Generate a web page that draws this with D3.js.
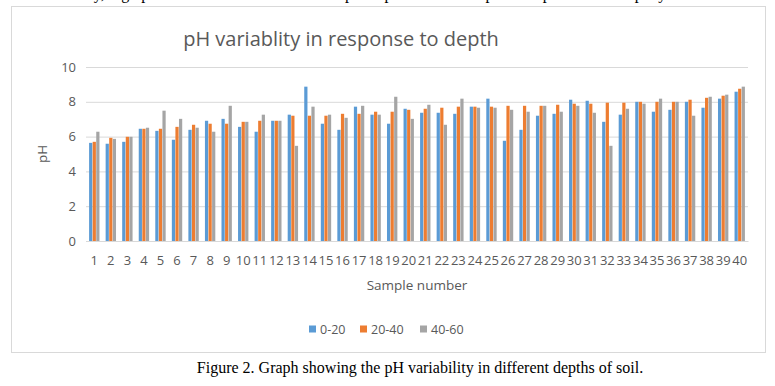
<!DOCTYPE html>
<html>
<head>
<meta charset="utf-8">
<script src="https://cdn.jsdelivr.net/npm/d3@7"></script>
<style>
  body { margin: 0; background: #fff; }
  svg { display: block; }
</style>
</head>
<body>
<div id="chart"></div>
<script>
// sample numbers on the x axis
const samples = ["1","2","3","4","5","6","7","8","9","10","11","12","13","14","15","16","17","18","19","20",
  "21","22","23","24","25","26","27","28","29","30","31","32","33","34","35","36","37","38","39","40"];
const seriesNames = ["0-20", "20-40", "40-60"];
const yTicks = [0, 2, 4, 6, 8, 10];

// pH values per depth
const depth0_20 = [5.64,5.59,5.70,6.45,6.33,5.82,6.39,6.91,7.02,6.56,6.28,6.91,7.26,8.87,6.74,6.39,7.72,7.26,6.74,7.60,
  7.37,7.37,7.31,7.72,8.18,5.76,6.39,7.20,7.31,8.12,8.06,6.85,7.26,8.00,7.43,7.54,8.00,7.66,8.18,8.58];
const depth20_40 = [5.70,5.93,5.99,6.45,6.45,6.56,6.68,6.74,6.74,6.85,6.91,6.91,7.20,7.20,7.20,7.31,7.31,7.43,7.43,7.54,
  7.60,7.66,7.72,7.72,7.72,7.77,7.77,7.77,7.83,7.89,7.89,7.95,7.95,8.00,8.00,8.00,8.12,8.23,8.35,8.75];
const depth40_60 = [6.28,5.87,5.99,6.51,7.49,7.02,6.51,6.28,7.77,6.85,7.26,6.91,5.47,7.72,7.26,7.08,7.77,7.26,8.29,7.02,
  7.83,6.68,8.18,7.66,7.66,7.54,7.43,7.77,7.43,7.77,7.37,5.47,7.60,7.89,8.18,8.00,7.20,8.29,8.41,8.87];

const seriesValues = [depth0_20, depth20_40, depth40_60];
const colors = ["#5b9bd5", "#ed7d31", "#a5a5a5"];

const W = 775, H = 386;
const plot = { left: 86, right: 748, top: 67, bottom: 241 };
const font = "'Open Sans', 'Liberation Sans', sans-serif";

const svg = d3.select("#chart").append("svg")
  .attr("width", W)
  .attr("height", H);

svg.append("rect").attr("width", W).attr("height", H).attr("fill", "#fff");

// line of the page text above the chart, cropped by the screenshot edge
svg.append("text")
  .attr("x", 36).attr("y", -1)
  .attr("font-family", "'Liberation Serif', 'Times New Roman', serif")
  .attr("font-size", 16)
  .attr("fill", "#000")
  .text("variability, high pH values were observed in deeper depths of soil samples compared to the top layer of soil in this study");

// chart border
svg.append("rect")
  .attr("x", 11.5).attr("y", 6.5)
  .attr("width", 754).attr("height", 346)
  .attr("fill", "#fff")
  .attr("stroke", "#d9d9d9");

const x0 = d3.scaleBand()
  .domain(samples)
  .range([plot.left, plot.right])
  .paddingInner(0.33)
  .paddingOuter(0.165);

const x1 = d3.scaleBand()
  .domain(seriesNames)
  .range([0, x0.bandwidth()])
  .padding(0.1);

const y = d3.scaleLinear()
  .domain([0, 10])
  .range([plot.bottom, plot.top]);

// gridlines + y labels
const yAxis = svg.append("g")
  .attr("transform", `translate(${plot.left},0)`)
  .call(d3.axisLeft(y).tickValues(yTicks).tickSize(-(plot.right - plot.left)).tickPadding(10));
yAxis.select(".domain").remove();
yAxis.selectAll("line").attr("stroke", "#d9d9d9");
yAxis.selectAll("text")
  .attr("font-family", font)
  .attr("font-size", 13)
  .attr("fill", "#595959");

// bars
const groups = svg.append("g").selectAll("g")
  .data(samples)
  .join("g")
  .attr("transform", d => `translate(${x0(d)},0)`);

groups.selectAll("rect")
  .data((d, i) => seriesNames.map((s, k) => ({ s, v: seriesValues[k][i], c: colors[k] })))
  .join("rect")
  .attr("x", d => x1(d.s))
  .attr("width", x1.bandwidth())
  .attr("y", d => y(d.v))
  .attr("height", d => y(0) - y(d.v))
  .attr("fill", d => d.c);

// x axis
const xAxis = svg.append("g")
  .attr("transform", `translate(0,${plot.bottom})`)
  .call(d3.axisBottom(x0).tickSize(0).tickPadding(15));
xAxis.select(".domain").attr("stroke", "#d9d9d9");
xAxis.selectAll("text")
  .attr("font-family", font)
  .attr("font-size", 13)
  .attr("fill", "#595959");

// title
svg.append("text")
  .attr("x", 341).attr("y", 46)
  .attr("text-anchor", "middle")
  .attr("font-family", font)
  .attr("font-size", 20)
  .attr("fill", "#595959")
  .text("pH variablity in response to depth");

// axis titles
svg.append("text")
  .attr("x", 417).attr("y", 290)
  .attr("text-anchor", "middle")
  .attr("font-family", font)
  .attr("font-size", 13.5)
  .attr("fill", "#595959")
  .text("Sample number");

svg.append("text")
  .attr("transform", "translate(47,154) rotate(-90)")
  .attr("text-anchor", "middle")
  .attr("font-family", font)
  .attr("font-size", 13.5)
  .attr("fill", "#595959")
  .text("pH");

// legend
const legendX = [309, 360, 420];
const legend = svg.append("g").selectAll("g")
  .data(seriesNames)
  .join("g")
  .attr("transform", (d, i) => `translate(${legendX[i]},329)`);
legend.append("rect")
  .attr("x", 0).attr("y", -3.5)
  .attr("width", 7).attr("height", 7)
  .attr("fill", (d, i) => colors[i]);
legend.append("text")
  .attr("x", 11).attr("y", 4.5)
  .attr("font-family", font)
  .attr("font-size", 12.5)
  .attr("fill", "#595959")
  .text(d => d);

// caption
svg.append("text")
  .attr("x", 420).attr("y", 373)
  .attr("text-anchor", "middle")
  .attr("font-family", "'Liberation Serif', 'Times New Roman', serif")
  .attr("font-size", 16)
  .attr("fill", "#000")
  .text("Figure 2. Graph showing the pH variability in different depths of soil.");
</script>
</body>
</html>
